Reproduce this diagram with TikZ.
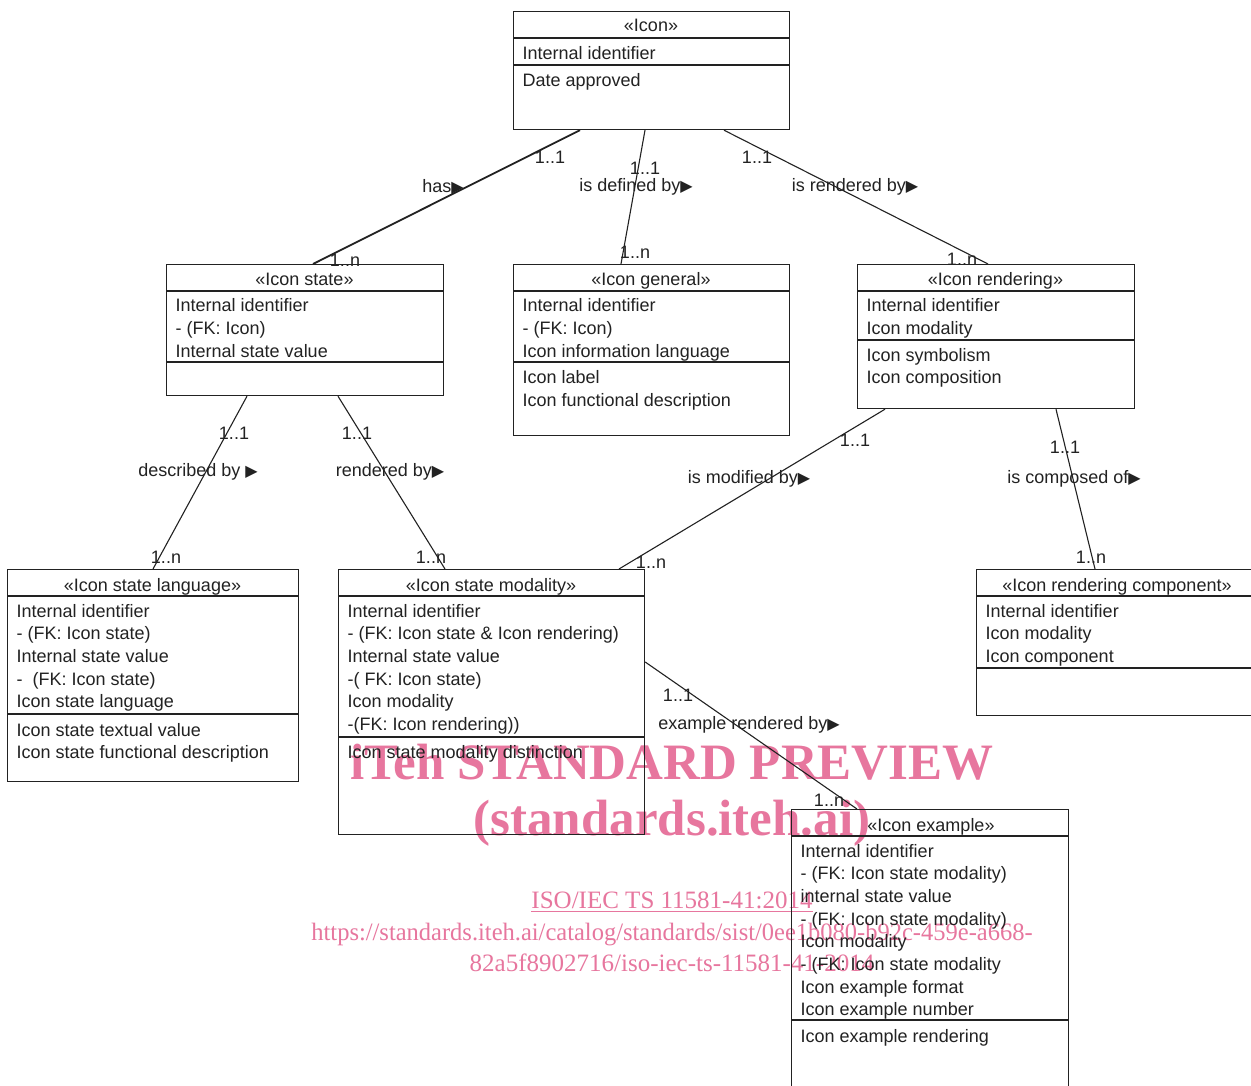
\documentclass[tikz,border=0pt]{standalone}
\usepackage{fontspec}
\setmainfont{Liberation Sans}
\newfontfamily\symfont{DejaVu Sans}
\newfontfamily\wmfont{Liberation Serif}
\usetikzlibrary{calc}
\definecolor{wmpink}{RGB}{231,118,158}
\definecolor{ink}{RGB}{34,34,34}
\newcommand\attrfont{\fontsize{18}{22}\selectfont}
\newcommand\tri{{\symfont\fontsize{16}{16}\selectfont ▶}}
\tikzset{
  umlbox/.style={draw=ink, line width=1.2pt, inner sep=0pt, anchor=north west},
  sepline/.style={draw=ink, line width=1.2pt},
  hdr/.style={anchor=base, inner sep=0pt, font=\attrfont, text=ink},
  attr/.style={anchor=base west, inner sep=0pt, font=\attrfont, text=ink},
  lbl/.style={inner sep=0pt, font=\attrfont, text=ink},
  conn/.style={draw=ink, line width=1.1pt},
  wmbig/.style={inner sep=0pt, anchor=base, text=wmpink, font={\wmfont\bfseries\fontsize{51}{51}\selectfont}},
  wmsmall/.style={inner sep=0pt, anchor=base, text=wmpink, font={\wmfont\fontsize{25}{25}\selectfont}}
}
\newcommand\hsep[2]{\draw[sepline] ([yshift=-#2pt]#1.north west) -- ([yshift=-#2pt]#1.north east);}
\newcommand\attrlist[5]{%
  \foreach \t [count=\i] in {#5} \node[attr] (#1-#2\i) at (#3, {#4+(\i-1)*22.7}) {\t};}
\begin{document}
\begin{tikzpicture}[x=1pt,y=-1pt]
\clip (0,0) rectangle (1251,1086);
\fill[white] (0,0) rectangle (1251,1086);

% watermark
\node[wmbig] (wm1) at (672,779) {iTeh STANDARD PREVIEW};
\node[wmbig] (wm2) at (672,835) {(standards.iteh.ai)};
\node[wmsmall] (wm3) at (672,908) {ISO/IEC TS 11581-41:2014};
\draw[wmpink, line width=1pt] ([yshift=-3pt]wm3.base west) -- ([yshift=-3pt]wm3.base east);
\node[wmsmall, xscale=0.98] (wm4) at (672,940) {https://standards.iteh.ai/catalog/standards/sist/0ee1b080-b92c-459e-a668-};
\node[wmsmall] (wm5) at (672,971) {82a5f8902716/iso-iec-ts-11581-41-2014};

% Icon
\node[umlbox, minimum width=276pt, minimum height=118pt] (icon) at (513,11) {};
\hsep{icon}{27}\hsep{icon}{54}
\node[hdr] (icon-h) at (651,32) {«Icon»};
\attrlist{icon}{a}{522.5}{59.5}{Internal identifier}
\attrlist{icon}{b}{522.5}{86.5}{Date approved}

% Icon state
\node[umlbox, minimum width=277pt, minimum height=131pt] (state) at (166,264) {};
\hsep{state}{27}\hsep{state}{98}
\node[hdr] (state-h) at (304.5,286) {«Icon state»};
\attrlist{state}{a}{175.5}{312}{Internal identifier,- (FK: Icon),Internal state value}

% Icon general
\node[umlbox, minimum width=276pt, minimum height=171pt] (gen) at (513,264) {};
\hsep{gen}{27}\hsep{gen}{98}
\node[hdr] (gen-h) at (651,286) {«Icon general»};
\attrlist{gen}{a}{522.5}{312}{Internal identifier,- (FK: Icon),Icon information language}
\attrlist{gen}{b}{522.5}{383.5}{Icon label,Icon functional description}

% Icon rendering
\node[umlbox, minimum width=277pt, minimum height=144pt] (rend) at (857,264) {};
\hsep{rend}{27}\hsep{rend}{76}
\node[hdr] (rend-h) at (995.5,286) {«Icon rendering»};
\attrlist{rend}{a}{866.5}{312}{Internal identifier,Icon modality}
\attrlist{rend}{b}{866.5}{361}{Icon symbolism,Icon composition}

% Icon state language
\node[umlbox, minimum width=291pt, minimum height=212pt] (isl) at (7,569) {};
\hsep{isl}{27}\hsep{isl}{145}
\node[hdr] (isl-h) at (152.5,591) {«Icon state language»};
\attrlist{isl}{a}{16.5}{617}{Internal identifier,- (FK: Icon state),Internal state value,-\ \ (FK: Icon state),Icon state language}
\attrlist{isl}{b}{16.5}{736}{Icon state textual value,Icon state functional description}

% Icon state modality
\node[umlbox, minimum width=306pt, minimum height=265pt] (ism) at (338,569) {};
\hsep{ism}{27}\hsep{ism}{168}
\node[hdr] (ism-h) at (491,591) {«Icon state modality»};
\attrlist{ism}{a}{347.5}{617}{Internal identifier,- (FK: Icon state \& Icon rendering),Internal state value,-( FK: Icon state),Icon modality,-(FK: Icon rendering))}
\attrlist{ism}{b}{347.5}{758}{Icon state modality distinction}

% Icon rendering component
\node[umlbox, minimum width=282pt, minimum height=146pt] (irc) at (976,569) {};
\hsep{irc}{27}\hsep{irc}{99}
\node[hdr] (irc-h) at (1117,591) {«Icon rendering component»};
\attrlist{irc}{a}{985.5}{617}{Internal identifier,Icon modality,Icon component}

% Icon example
\node[umlbox, minimum width=277pt, minimum height=290pt] (iex) at (791,809) {};
\hsep{iex}{27}\hsep{iex}{211}
\node[hdr] (iex-h) at (931,831) {«Icon example»};
\attrlist{iex}{a}{800.5}{857}{Internal identifier,- (FK: Icon state modality),internal state value,- (FK: Icon state modality),Icon modality,- (FK: Icon state modality,Icon example format,Icon example number}
\attrlist{iex}{b}{800.5}{1042}{Icon example rendering}

% connectors
\draw[conn, line width=1.8pt] ($(icon.south west)+(67,0)$) -- ($(state.north west)+(147,0)$);
\draw[conn] ($(icon.south west)+(132,0)$) -- ($(gen.north west)+(108,0)$);
\draw[conn] ($(icon.south west)+(211,0)$) -- ($(rend.north west)+(131,0)$);
\draw[conn] ($(state.south west)+(81,0)$) -- ($(isl.north west)+(146,0)$);
\draw[conn] ($(state.south west)+(172,0)$) -- ($(ism.north west)+(107,0)$);
\draw[conn] ($(rend.south west)+(28,0)$) -- ($(ism.north west)+(281,0)$);
\draw[conn] ($(rend.south west)+(199,0)$) -- ($(irc.north west)+(119,0)$);
\draw[conn] ($(ism.north east)+(0,93)$) -- ($(iex.north west)+(66,0)$);

% connector labels
\node[lbl] (l1a) at (550,157) {1..1};
\node[lbl] (l1b) at (443,187) {has\tri};
\node[lbl] (l1c) at (345,260) {1..n};
\node[lbl] (l2a) at (645,168) {1..1};
\node[lbl] (l2b) at (636,187) {is defined by\tri};
\node[lbl] (l2c) at (635,252) {1..n};
\node[lbl] (l3a) at (757,157) {1..1};
\node[lbl] (l3b) at (855,187) {is rendered by\tri};
\node[lbl] (l3c) at (962,259) {1..n};
\node[lbl] (l4a) at (234,433) {1..1};
\node[lbl] (l4b) at (198,472) {described by \tri};
\node[lbl] (l4c) at (166,557) {1..n};
\node[lbl] (l5a) at (357,433) {1..1};
\node[lbl] (l5b) at (390,472) {rendered by\tri};
\node[lbl] (l5c) at (431,557) {1..n};
\node[lbl] (l6a) at (855,440) {1..1};
\node[lbl] (l6b) at (749,479) {is modified by\tri};
\node[lbl] (l6c) at (651,562) {1..n};
\node[lbl] (l7a) at (1065,447) {1..1};
\node[lbl] (l7b) at (1074,479) {is composed of\tri};
\node[lbl] (l7c) at (1091,557) {1..n};
\node[lbl] (l8a) at (678,695) {1..1};
\node[lbl] (l8b) at (749,725) {example rendered by\tri};
\node[lbl] (l8c) at (829,800) {1..n};
\end{tikzpicture}
\end{document}
